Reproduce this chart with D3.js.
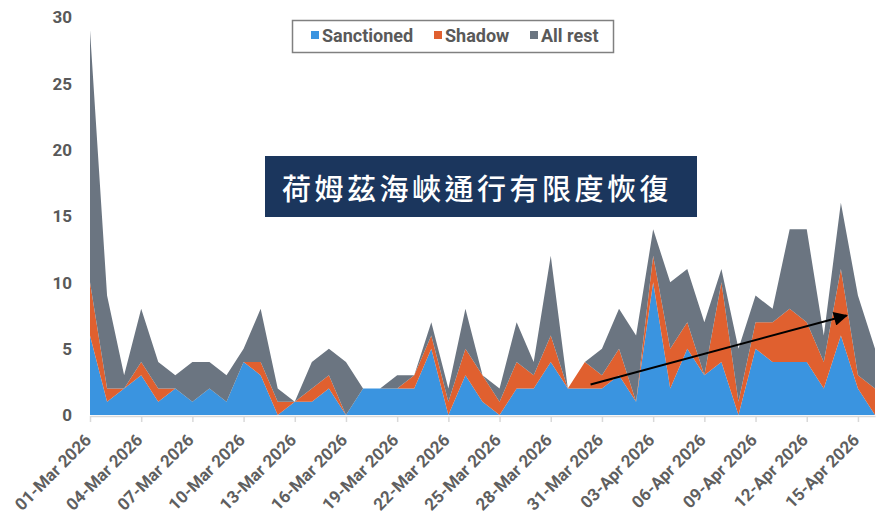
<!DOCTYPE html>
<html>
<head>
<meta charset="utf-8">
<script src="https://cdn.jsdelivr.net/npm/d3@7"></script>
<style>
  body { margin: 0; background: #ffffff; }
  svg { display: block; }
</style>
</head>
<body>
<svg id="chart" width="878" height="515"></svg>
<script>
// Daily vessel transits, 01-Mar-2026 to 16-Apr-2026
const dates = [
  "2026-03-01","2026-03-02","2026-03-03","2026-03-04","2026-03-05","2026-03-06","2026-03-07",
  "2026-03-08","2026-03-09","2026-03-10","2026-03-11","2026-03-12","2026-03-13","2026-03-14",
  "2026-03-15","2026-03-16","2026-03-17","2026-03-18","2026-03-19","2026-03-20","2026-03-21",
  "2026-03-22","2026-03-23","2026-03-24","2026-03-25","2026-03-26","2026-03-27","2026-03-28",
  "2026-03-29","2026-03-30","2026-03-31","2026-04-01","2026-04-02","2026-04-03","2026-04-04",
  "2026-04-05","2026-04-06","2026-04-07","2026-04-08","2026-04-09","2026-04-10","2026-04-11",
  "2026-04-12","2026-04-13","2026-04-14","2026-04-15","2026-04-16"
];
const sanctioned = [6,1,2,3,1,2,1,2,1,4, 3,0,1,1,2,0,2,2,2,2, 5,0,3,1,0,2,2,4,2,2, 2,3,1,10,2,5,3,4,0,5, 4,4,4,2,6,2,0];
const shadow     = [4,1,0,1,1,0,0,0,0,0, 1,1,0,1,1,0,0,0,0,1, 1,1,2,2,1,2,1,2,0,2, 1,2,0,2,3,2,0,6,1,2, 3,4,3,2,5,1,2];
const allRest    = [19,7,1,4,2,1,3,2,2,1, 4,1,0,2,2,4,0,0,1,0, 1,1,3,0,1,3,1,6,0,0, 2,3,5,2,5,4,4,1,4,2, 1,6,7,2,5,6,3];

const seriesNames  = ["Sanctioned", "Shadow", "All rest"];
const seriesColors = ["#3a94e0", "#e0602f", "#6b7581"];
const yTicks = [0, 5, 10, 15, 20, 25, 30];
const titleText = "荷姆茲海峽通行有限度恢復";

// trend arrow: [date-time, value] at start and end
const trendStart = ["2026-03-30T08:00:00Z", 2.3];
const trendEnd   = ["2026-04-14T08:00:00Z", 7.5];

const plotLeft = 90, plotRight = 875, plotTop = 17, plotBottom = 415;

const parse = d3.utcParse("%Y-%m-%d");
const rows = dates.map((d, i) => ({
  date: parse(d),
  "Sanctioned": sanctioned[i],
  "Shadow": shadow[i],
  "All rest": allRest[i]
}));

const svg = d3.select("#chart");

const x = d3.scaleUtc()
  .domain([rows[0].date, rows[rows.length - 1].date])
  .range([plotLeft, plotRight]);

const y = d3.scaleLinear()
  .domain([0, 30])
  .range([plotBottom, plotTop]);

// stacked areas
const stacked = d3.stack().keys(seriesNames)(rows);
const area = d3.area()
  .x(d => x(d.data.date))
  .y0(d => y(d[0]))
  .y1(d => y(d[1]))
  .curve(d3.curveLinear);

svg.append("g")
  .selectAll("path")
  .data(stacked)
  .join("path")
  .attr("d", area)
  .attr("fill", (d, i) => seriesColors[i]);

// y axis labels (no line)
const yAxis = svg.append("g")
  .attr("transform", `translate(${plotLeft - 14},0)`)
  .call(d3.axisLeft(y).tickValues(yTicks).tickSize(0).tickPadding(0).tickFormat(d3.format("d")));
yAxis.select(".domain").remove();
yAxis.selectAll("text")
  .attr("x", -4)
  .attr("dy", "0.35em")
  .style("font-family", "Roboto, 'Liberation Sans', sans-serif")
  .style("font-weight", "700")
  .style("font-size", "17px")
  .attr("fill", "#595959");

// x axis, a tick every third day
const xTickVals = rows.filter((d, i) => i % 3 === 0).map(d => d.date);
const xAxis = svg.append("g")
  .attr("transform", `translate(0,${plotBottom + 1})`)
  .call(d3.axisBottom(x).tickValues(xTickVals).tickSize(6).tickSizeOuter(0)
    .tickFormat(d3.utcFormat("%d-%b %Y")));
xAxis.select(".domain").attr("stroke", "#d9d9d9").attr("stroke-width", 1.5);
xAxis.selectAll(".tick line").attr("stroke", "#d9d9d9").attr("stroke-width", 1.5);
xAxis.selectAll("text")
  .attr("x", 0).attr("y", 0).attr("dy", null)
  .attr("text-anchor", "end")
  .attr("transform", "translate(2,25) rotate(-45)")
  .style("font-family", "Roboto, 'Liberation Sans', sans-serif")
  .style("font-weight", "700")
  .style("font-size", "17px")
  .attr("fill", "#5f5f5f");

// trend arrow
const defs = svg.append("defs");
defs.append("marker")
  .attr("id", "arrowHead")
  .attr("viewBox", "0 0 10 10")
  .attr("refX", 9).attr("refY", 5)
  .attr("markerUnits", "userSpaceOnUse")
  .attr("markerWidth", 17).attr("markerHeight", 14)
  .attr("orient", "auto")
  .append("path")
  .attr("d", "M0,0 L10,5 L0,10 Z")
  .attr("fill", "#000");

svg.append("line")
  .attr("x1", x(new Date(trendStart[0]))).attr("y1", y(trendStart[1]))
  .attr("x2", x(new Date(trendEnd[0]))).attr("y2", y(trendEnd[1]))
  .attr("stroke", "#000").attr("stroke-width", 2)
  .attr("marker-end", "url(#arrowHead)");

// title banner
const banner = svg.append("g");
banner.append("rect")
  .attr("x", 265).attr("y", 156).attr("width", 432).attr("height", 61)
  .attr("fill", "#1b365d");
banner.append("text")
  .attr("x", 477).attr("y", 187)
  .attr("text-anchor", "middle")
  .attr("dominant-baseline", "central")
  .attr("fill", "#ffffff")
  .style("font-family", "'Noto Sans CJK TC', 'Noto Sans CJK SC', sans-serif")
  .style("font-weight", "500")
  .style("font-size", "29px")
  .style("letter-spacing", "3.5px")
  .text(titleText);

// legend
const legend = svg.append("g");
legend.append("rect")
  .attr("x", 292.5).attr("y", 20.5).attr("width", 321).attr("height", 32)
  .attr("fill", "#fff").attr("stroke", "#808080").attr("stroke-width", 1.5);
const legendX = [311, 434, 530];
seriesNames.forEach((name, i) => {
  const g = legend.append("g").attr("transform", `translate(${legendX[i]},0)`);
  g.append("rect").attr("x", 0).attr("y", 31).attr("width", 8).attr("height", 8)
    .attr("fill", seriesColors[i]);
  g.append("text").attr("x", 11).attr("y", 41.5)
    .style("font-family", "Roboto, 'Liberation Sans', sans-serif")
    .style("font-weight", "700")
    .style("font-size", "18px")
    .attr("fill", "#595959")
    .text(name);
});
</script>
</body>
</html>
